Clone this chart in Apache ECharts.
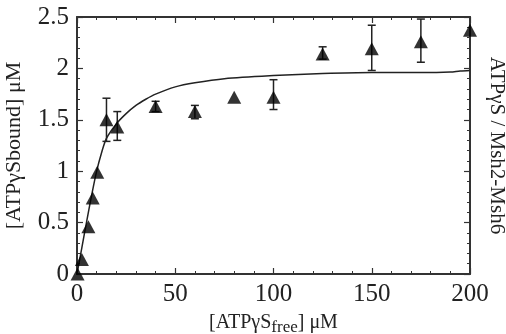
<!DOCTYPE html>
<html><head><meta charset="utf-8">
<script src="https://cdn.jsdelivr.net/npm/echarts@6/dist/echarts.min.js"></script>
<style>html,body{margin:0;padding:0;background:#fff}#c{width:506px;height:334px}</style>
</head><body><div id="c"></div>
<script>
// measured points
const pointX = [0.3, 2.5, 5.8, 8, 10.3, 15, 20.5, 40, 60, 80, 100, 125, 150, 175, 200];
const pointY = [0, 0.14, 0.46, 0.74, 0.99, 1.50, 1.43, 1.63, 1.58, 1.72, 1.72, 2.14, 2.19, 2.26, 2.37];
// error bars: [x, low, high]
const errX    = [15, 20.5, 40, 60, 100, 125, 150, 175];
const errLow  = [1.29, 1.30, 1.58, 1.51, 1.60, 2.09, 1.98, 2.06];
const errHigh = [1.71, 1.58, 1.68, 1.64, 1.89, 2.21, 2.42, 2.48];
// fitted curve
const curveX = [0, 2.5, 5, 7.5, 10, 12.5, 15, 20, 25, 30, 35, 40, 50, 60, 75, 100, 125, 150, 175, 190, 195, 200];
const curveY = [0, 0.26, 0.52, 0.77, 1.0, 1.18, 1.32, 1.46, 1.56, 1.64, 1.70, 1.75, 1.82, 1.86, 1.90, 1.93, 1.95, 1.96, 1.96, 1.965, 1.975, 1.98];
const xTicks = [0, 50, 100, 150, 200];
const yTicks = [0, 0.5, 1, 1.5, 2, 2.5];

const FONT = '"Liberation Serif", "DejaVu Serif", serif';
const TXT = '#222';
const chart = echarts.init(document.getElementById('c'), null, {renderer: 'canvas'});

const axisCommon = {
  axisLine: {show: true, onZero: false, lineStyle: {color: '#333', width: 2}},
  axisTick: {show: true, inside: true, length: 6, lineStyle: {color: '#333', width: 1.2}},
  minorTick: {show: true, splitNumber: 5, length: 3, lineStyle: {color: '#333', width: 1}},
  splitLine: {show: false},
};

chart.setOption({
  animation: false,
  backgroundColor: '#fff',
  grid: {left: 77, right: 36, top: 17, bottom: 60, outerBoundsMode: 'none', containLabel: false},
  xAxis: [
    Object.assign({
      type: 'value', min: 0, max: 200, interval: 50, position: 'bottom',
      axisLabel: {fontFamily: FONT, fontSize: 25, color: TXT, margin: 8,
        formatter: v => xTicks.includes(v) ? String(v) : ''},
      name: '{a|[ATPγS}{b|free}{a|] μM}', nameLocation: 'middle', nameGap: 35,
      nameTextStyle: {rich: {
        a: {fontFamily: FONT, fontSize: 20, color: TXT},
        b: {fontFamily: FONT, fontSize: 17, color: TXT, verticalAlign: 'bottom', padding: [10, 0, 0, 0]}
      }}
    }, axisCommon),
    Object.assign({
      type: 'value', min: 0, max: 200, interval: 50, position: 'top',
      axisLabel: {show: false}
    }, axisCommon)
  ],
  yAxis: [
    Object.assign({
      type: 'value', min: 0, max: 2.5, interval: 0.5, position: 'left',
      axisLabel: {fontFamily: FONT, fontSize: 25, color: TXT, margin: 8,
        formatter: v => yTicks.includes(v) ? String(v) : ''},
      name: '[ATPγSbound] μM', nameLocation: 'middle', nameGap: 52,
      nameTextStyle: {fontFamily: FONT, fontSize: 22, color: TXT}
    }, axisCommon),
    Object.assign({
      type: 'value', min: 0, max: 2.5, interval: 0.5, position: 'right',
      axisLabel: {show: false},
      name: 'ATPγS / Msh2-Msh6', nameLocation: 'middle', nameGap: 16, nameRotate: -90,
      nameTextStyle: {fontFamily: FONT, fontSize: 21, color: TXT}
    }, axisCommon)
  ],
  series: [
    {
      type: 'line', data: curveX.map((x, i) => [x, curveY[i]]),
      showSymbol: false, smooth: 0.3, lineStyle: {color: '#222', width: 1.5}, z: 2
    },
    {
      type: 'custom',
      data: errX.map((x, i) => [x, errLow[i], errHigh[i]]),
      renderItem: function (params, api) {
        const lo = api.coord([api.value(0), api.value(1)]);
        const hi = api.coord([api.value(0), api.value(2)]);
        const w = 4;
        const st = {stroke: '#222', lineWidth: 1.5};
        return {type: 'group', children: [
          {type: 'line', shape: {x1: lo[0], y1: lo[1], x2: hi[0], y2: hi[1]}, style: st},
          {type: 'line', shape: {x1: lo[0] - w, y1: lo[1], x2: lo[0] + w, y2: lo[1]}, style: st},
          {type: 'line', shape: {x1: hi[0] - w, y1: hi[1], x2: hi[0] + w, y2: hi[1]}, style: st}
        ]};
      },
      z: 3
    },
    {
      type: 'scatter', data: pointX.map((x, i) => [x, pointY[i]]),
      symbol: 'triangle', symbolSize: [14, 13],
      itemStyle: {color: '#000'}, z: 4
    }
  ]
});
</script></body></html>
